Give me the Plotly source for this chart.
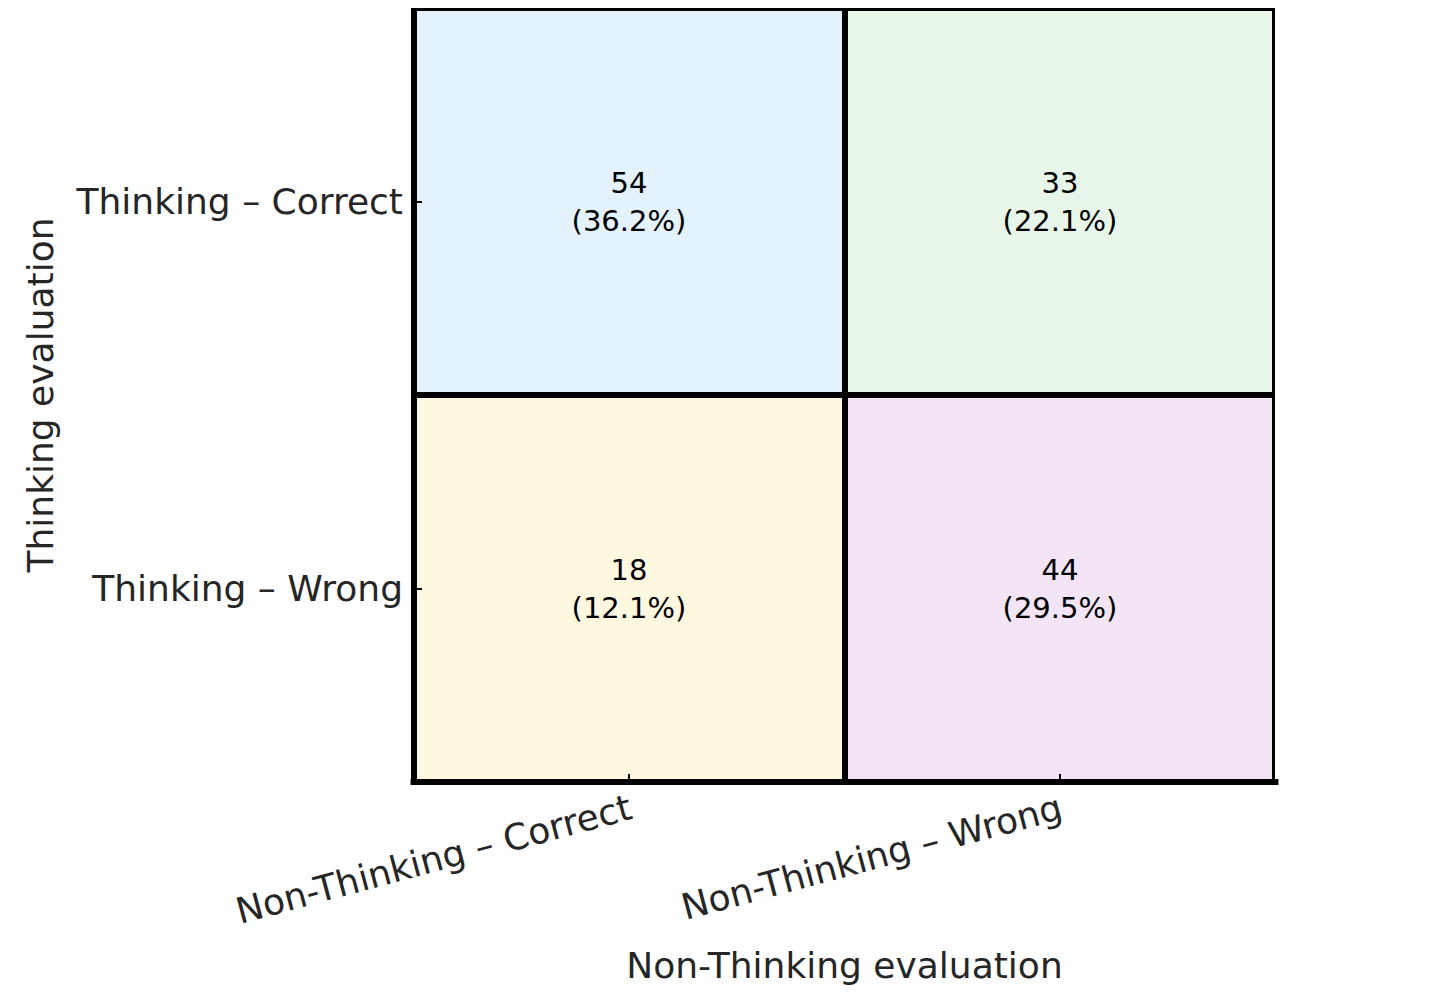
import plotly.graph_objects as go

x_labels = ["Non-Thinking – Correct", "Non-Thinking – Wrong"]
y_labels = ["Thinking – Correct", "Thinking – Wrong"]
counts = [[54, 33], [18, 44]]
percents = [[36.2, 22.1], [12.1, 29.5]]
cell_colors = [["#E3F2FD", "#E8F5E9"], ["#FFF8E1", "#F3E5F5"]]

# z index per cell -> discrete colours
z = [[0, 1], [2, 3]]
flat = [c for row in cell_colors for c in row]
cs = []
n = len(flat)
for i, c in enumerate(flat):
    cs.append([i / n, c])
    cs.append([(i + 1) / n, c])

text = [[f"{counts[r][c]}<br>({percents[r][c]:.1f}%)" for c in range(2)] for r in range(2)]

fig = go.Figure(go.Heatmap(
    z=z, x=[0, 1], y=[0, 1], zmin=-0.5, zmax=3.5,
    colorscale=cs, showscale=False, xgap=6, ygap=6,
    text=text, texttemplate="%{text}",
    textfont=dict(family="DejaVu Sans", size=29, color="black"),
    hoverinfo="skip",
))

FONT = "DejaVu Sans"
fig.update_layout(
    width=1434, height=1008,
    margin=dict(l=406, r=167, t=0, b=234),
    paper_bgcolor="white", plot_bgcolor="black",
    font=dict(family=FONT, color="#262626"),
    xaxis=dict(
        range=[-0.5, 1.5], tickvals=[0, 1], ticktext=x_labels,
        tickangle=-15, tickfont=dict(size=36, family=FONT, color="#262626"),
        ticks="inside", ticklen=8, tickwidth=1.5, tickcolor="black",
        showgrid=False, zeroline=False, automargin=False,
        title=dict(text="Non-Thinking evaluation", font=dict(size=36, family=FONT, color="#262626"), standoff=22),
    ),
    yaxis=dict(
        range=[1.5, -0.5], tickvals=[0, 1], ticktext=y_labels,
        tickfont=dict(size=36, family=FONT, color="#262626"),
        ticks="inside", ticklen=8, tickwidth=1.5, tickcolor="black",
        ticklabelstandoff=10,
        showgrid=False, zeroline=False, automargin=False,
        title=dict(text="Thinking evaluation", font=dict(size=36, family=FONT, color="#262626"), standoff=10),
    ),
    shapes=[
        dict(type="line", xref="paper", yref="paper", x0=0, x1=0, y0=-0.004, y1=1.004, line=dict(color="black", width=6)),
        dict(type="line", xref="paper", yref="paper", x0=-0.004, x1=1.004, y0=0, y1=0, line=dict(color="black", width=6)),
    ],
)

fig.write_html("out.html")
